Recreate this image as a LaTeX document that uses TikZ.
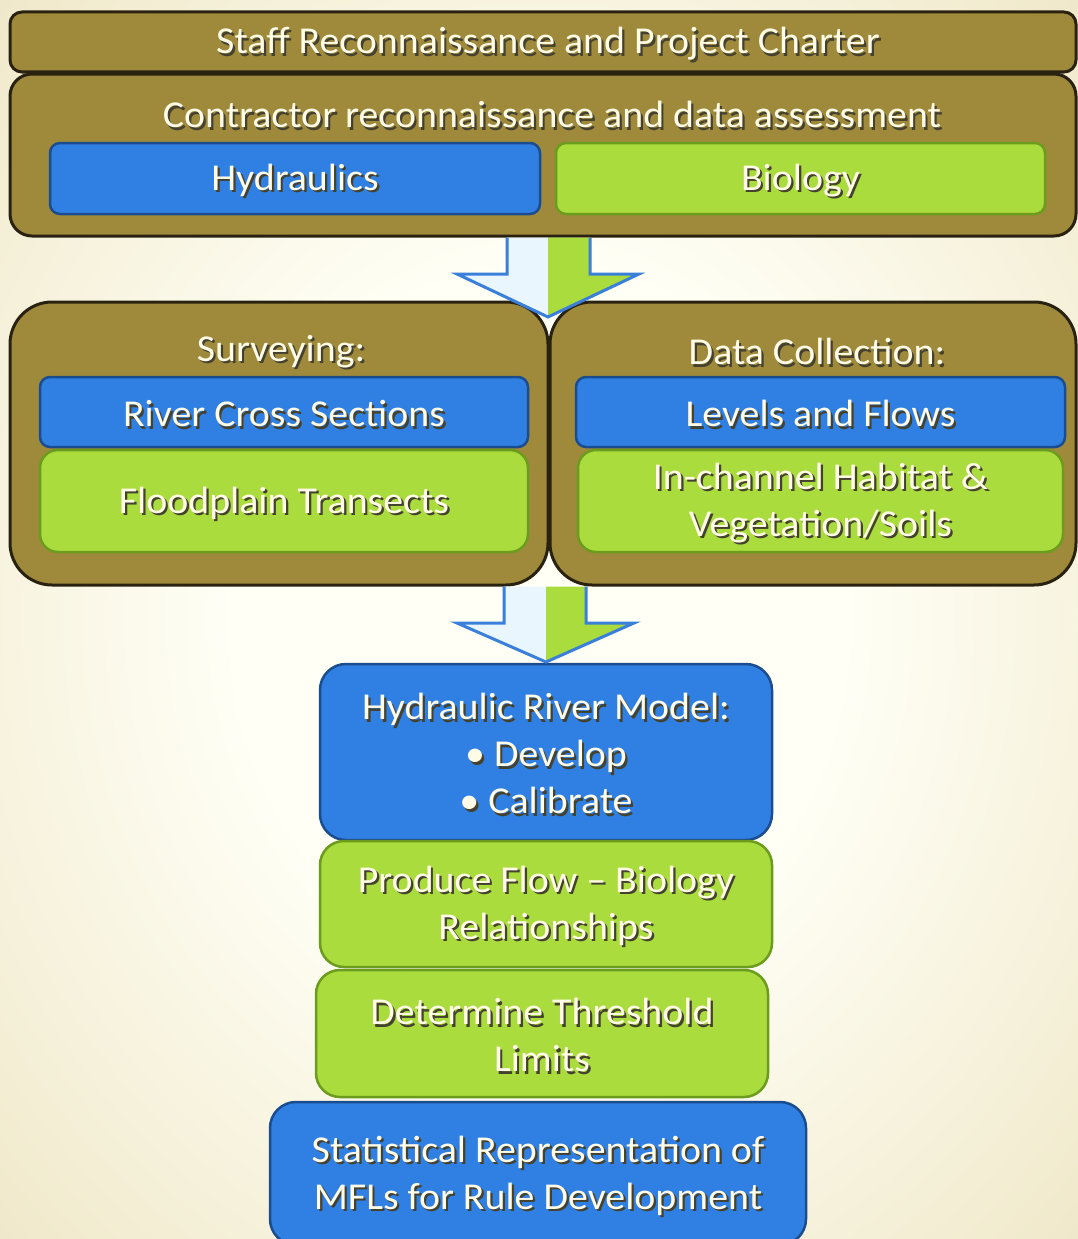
\documentclass[tikz,border=0pt]{standalone}
\usepackage{fontspec}
\setmainfont[FakeStretch=1.05]{Carlito}
\definecolor{bgin}{HTML}{FFFFF6}
\definecolor{bgmid}{HTML}{F1EACD}
\definecolor{bgout}{HTML}{C6BE9C}
\definecolor{olivefill}{HTML}{9F8A3C}
\definecolor{olivedark}{HTML}{2A2210}
\definecolor{bluefill}{HTML}{2F80E2}
\definecolor{bluedark}{HTML}{1B4C8E}
\definecolor{greenfill}{HTML}{A9DC3C}
\definecolor{greendark}{HTML}{6C9C1E}
\definecolor{cream}{HTML}{FFFBE6}
\definecolor{shadowc}{HTML}{45412F}
\definecolor{arrowlight}{HTML}{EAF6FE}
\definecolor{arrowline}{HTML}{3A80DA}
\pgfdeclareradialshading{bgshade}{\pgfpoint{0bp}{0bp}}{color(0bp)=(bgin);color(14bp)=(bgin);color(34bp)=(bgmid);color(58bp)=(bgout)}
\newcommand\shtxt[1]{\raisebox{-3pt}[\height][\depth]{\makebox[0pt][l]{\hspace{2.2pt}\raisebox{-2.2pt}{\textcolor{shadowc}{#1}}}#1}}
\begin{document}
\begin{tikzpicture}[x=1pt,y=-1pt,
 grp/.style={draw=olivedark, line width=3pt, fill=olivefill, rounded corners=22pt, inner sep=0pt},
 bluebox/.style={draw=bluedark, line width=2.5pt, fill=bluefill, rounded corners=10pt, inner sep=0pt},
 greenbox/.style={draw=greendark, line width=2.5pt, fill=greenfill, rounded corners=10pt, inner sep=0pt},
 lbl/.style={text=cream, font=\fontsize{38}{47}\selectfont, align=center},
 halfl/.style={fill=arrowlight},
 halfr/.style={fill=greenfill},
 arrowedge/.style={draw=arrowline, line width=3pt, line join=miter}]
\useasboundingbox (0,0) rectangle (1078,1239);
\clip (0,0) rectangle (1078,1239);
\shade[shading=bgshade] (0,0) rectangle (1078,1239);

% top rows
\node[grp, rounded corners=12pt, minimum width=1066pt, minimum height=60pt] (staff) at (543,42) {};
\node[lbl] (stafft) at (548,42) {\shtxt{Staff Reconnaissance and Project Charter}};
\node[grp, minimum width=1066pt, minimum height=162pt] (contr) at (543,155) {};
\node[lbl] (contrt) at (552,113) {\shtxt{Contractor reconnaissance and data assessment}};
\node[bluebox, minimum width=490pt, minimum height=71pt, lbl] (hyd) at (295,178.5) {\shtxt{Hydraulics}};
\node[greenbox, minimum width=489pt, minimum height=71pt, lbl] (bio) at (800.5,178.5) {\shtxt{Biology}};

% middle groups
\node[grp, rounded corners=42pt, minimum width=538pt, minimum height=283pt] (surv) at (279,443.5) {};
\node[grp, rounded corners=42pt, minimum width=526pt, minimum height=283pt] (datac) at (813,443.5) {};
\node[lbl] (survt) at (281,350) {\shtxt{Surveying:}};
\node[lbl] (datact) at (817,350) {\shtxt{Data Collection:}};
\node[bluebox, minimum width=488pt, minimum height=70pt, lbl] (rcs) at (284,412) {\shtxt{River Cross Sections}};
\node[greenbox, rounded corners=18pt, minimum width=488pt, minimum height=102pt, lbl] (fpt) at (284,501) {\shtxt{Floodplain Transects}};
\node[bluebox, minimum width=489pt, minimum height=70pt, lbl] (lvf) at (820.5,412) {\shtxt{Levels and Flows}};
\node[greenbox, rounded corners=18pt, minimum width=485pt, minimum height=102pt, lbl] (ich) at (820.5,501) {\shtxt{In-channel Habitat \&}\\\shtxt{Vegetation/Soils}};

% lower stack
\node[bluebox, rounded corners=26pt, minimum width=452pt, minimum height=176pt, lbl] (hrm) at (546,752) {\shtxt{Hydraulic River Model:}\\\shtxt{• Develop}\\\shtxt{• Calibrate}};
\node[greenbox, rounded corners=24pt, minimum width=452pt, minimum height=126pt, lbl] (pfb) at (546,904) {\shtxt{Produce Flow – Biology}\\\shtxt{Relationships}};
\node[greenbox, rounded corners=24pt, minimum width=452pt, minimum height=127pt, lbl] (dtl) at (542,1033.5) {\shtxt{Determine Threshold}\\\shtxt{Limits}};
\node[bluebox, rounded corners=26pt, minimum width=536pt, minimum height=143pt, lbl] (stat) at (538,1173.5) {\shtxt{Statistical Representation of}\\\shtxt{MFLs for Rule Development}};

% arrow 1
\coordinate (a1tl) at (507,237.5);
\coordinate (a1tm) at (548,237.5);
\coordinate (a1tr) at (590,237.5);
\coordinate (a1sl) at (507,274);
\coordinate (a1sr) at (590,274);
\coordinate (a1hl) at (457,274);
\coordinate (a1hr) at (639,274);
\coordinate (a1tip) at (548,317);
\fill[halfl] (a1tl) -- (a1sl) -- (a1hl) -- (a1tip) -- (a1tm) -- cycle;
\fill[halfr] (a1tm) -- (a1tip) -- (a1hr) -- (a1sr) -- (a1tr) -- cycle;
\draw[arrowedge] (a1tl) -- (a1sl) -- (a1hl) -- (a1tip) -- (a1hr) -- (a1sr) -- (a1tr);

% arrow 2
\coordinate (a2tl) at (504,586.5);
\coordinate (a2tm) at (546,586.5);
\coordinate (a2tr) at (586,586.5);
\coordinate (a2sl) at (504,623);
\coordinate (a2sr) at (586,623);
\coordinate (a2hl) at (457,623);
\coordinate (a2hr) at (634,623);
\coordinate (a2tip) at (546,662);
\fill[halfl] (a2tl) -- (a2sl) -- (a2hl) -- (a2tip) -- (a2tm) -- cycle;
\fill[halfr] (a2tm) -- (a2tip) -- (a2hr) -- (a2sr) -- (a2tr) -- cycle;
\draw[arrowedge] (a2tl) -- (a2sl) -- (a2hl) -- (a2tip) -- (a2hr) -- (a2sr) -- (a2tr);
\end{tikzpicture}
\end{document}
